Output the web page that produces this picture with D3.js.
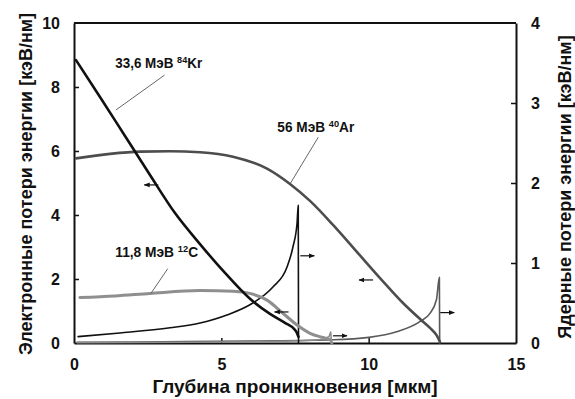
<!DOCTYPE html>
<html>
<head>
<meta charset="utf-8">
<script src="https://cdn.jsdelivr.net/npm/d3@7"></script>
<style>
  html, body { margin: 0; padding: 0; background: #fff; }
  svg { display: block; }
  text { font-family: "Liberation Sans", Arial, sans-serif; font-weight: bold; fill: #111; }
</style>
</head>
<body>
<svg id="chart" width="575" height="399"></svg>
<script>
// Depth (µm) and stopping power; electronic losses on the left axis, nuclear on the right
const krElectronic = [[0.068,8.84],[0.882,7.69],[1.731,6.47],[2.579,5.25],[3.428,4.06],[4.276,3.09],[5.124,2.19],[5.973,1.38],[6.652,0.91],[7.161,0.63],[7.466,0.44],[7.568,0.31],[7.619,0.19]];
const krNuclear = [[0.14,0.08],[1.56,0.125],[3.26,0.19],[4.28,0.25],[5.19,0.35],[6.07,0.50],[6.75,0.70],[7.23,0.95],[7.43,1.20],[7.57,1.50],[7.61,1.72],[7.62,0]];
const arElectronic = [[0.068,5.77],[1.222,5.91],[2.240,5.98],[3.258,5.99],[4.276,5.96],[5.396,5.82],[6.550,5.45],[7.330,4.97],[8.009,4.44],[8.790,3.69],[9.570,2.88],[10.385,2.03],[11.165,1.25],[11.742,0.75],[12.081,0.47],[12.319,0.22],[12.421,0.03]];
const arNuclear = [[0.1,0.01],[3,0.015],[6,0.025],[8.8,0.04],[10.0,0.07],[10.95,0.14],[11.75,0.27],[12.08,0.37],[12.3,0.54],[12.4,0.82],[12.41,0]];
const cElectronic = [[0.2,1.42],[1.39,1.47],[2.58,1.55],[4.28,1.64],[5.40,1.62],[5.97,1.55],[6.55,1.34],[7.09,0.93],[7.57,0.56],[8.01,0.30],[8.45,0.17],[8.69,0.11],[8.75,0.0]];
const cNuclear = [[0.1,0.005],[4,0.01],[7,0.02],[8.3,0.04],[8.65,0.08],[8.72,0.14],[8.73,0]];

const xTicks = [0, 5, 10, 15];
const leftTicks = [0, 2, 4, 6, 8, 10];
const rightTicks = [0, 1, 2, 3, 4];

const xTitle = "Глубина проникновения [мкм]";
const leftTitle = "Электронные потери энергии [кэВ/нм]";
const rightTitle = "Ядерные потери энергии [кэВ/нм]";

// Ion labels: energy text, mass number, element, label anchor, set width and leader line ends (left-axis units)
const ionLabels = [
  { text: "33,6 МэВ ", mass: "84", el: "Kr", at: [1.4, 8.6], width: 87, from: [3.07, 8.37], to: [1.42, 7.28] },
  { text: "56 МэВ ", mass: "40", el: "Ar", at: [6.9, 6.59], width: 77, from: [8.29, 6.43], to: [7.35, 5.0] },
  { text: "11,8 МэВ ", mass: "12", el: "C", at: [1.4, 2.7], width: 83, from: [3.18, 2.32], to: [2.61, 1.55] }
];

// Direction arrows telling which axis each curve belongs to: [depth, value, axis, direction]
const arrows = [
  [2.86, 4.94, "L", -1],
  [10.15, 1.97, "L", -1],
  [7.28, 0.97, "L", -1],
  [7.68, 1.09, "R", 1],
  [12.43, 0.38, "R", 1],
  [8.79, 0.09, "R", 1]
];

const svg = d3.select("#chart");
const x = d3.scaleLinear().domain([0, 15]).range([74, 516]);
const yL = d3.scaleLinear().domain([0, 10]).range([343, 23]);
const yR = d3.scaleLinear().domain([0, 4]).range([343, 23]);

// Axes
const axisStyle = g => {
  g.selectAll("path.domain").attr("stroke", "#111").attr("stroke-width", 2);
  g.selectAll(".tick line").attr("stroke", "#111").attr("stroke-width", 1.5);
  g.selectAll(".tick text").attr("font-size", 16).attr("font-family", "Liberation Sans, Arial, sans-serif").attr("font-weight", "bold").attr("fill", "#111");
};
const fmt = d3.format("d");

svg.append("g").attr("transform", "translate(0,343)")
  .call(d3.axisBottom(x).tickValues(xTicks).tickFormat(fmt).tickSize(-5).tickSizeOuter(0).tickPadding(16))
  .call(axisStyle)
  .call(g => g.selectAll(".tick line").filter(d => d === 0 || d === 15).remove());

svg.append("g").attr("transform", "translate(74,0)")
  .call(d3.axisLeft(yL).tickValues(leftTicks).tickFormat(fmt).tickSize(-5).tickSizeOuter(0).tickPadding(14))
  .call(axisStyle)
  .call(g => g.selectAll(".tick line").filter(d => d === 0 || d === 10).remove());

svg.append("g").attr("transform", "translate(516,0)")
  .call(d3.axisRight(yR).tickValues(rightTicks).tickFormat(fmt).tickSize(-5).tickSizeOuter(0).tickPadding(15))
  .call(axisStyle)
  .call(g => g.selectAll(".tick line").filter(d => d === 0 || d === 4).remove());

// Top border of the frame
svg.append("line").attr("x1", x(0)).attr("x2", x(15)).attr("y1", yL(10)).attr("y2", yL(10))
  .attr("stroke", "#111").attr("stroke-width", 2);

// Curves
const lineL = d3.line().x(d => x(d[0])).y(d => yL(d[1])).curve(d3.curveMonotoneX);
const lineR = d3.line().x(d => x(d[0])).y(d => yR(d[1])).curve(d3.curveMonotoneX);

const series = [
  { data: arNuclear, gen: lineR, color: "#5a5a5a", w: 1.6 },
  { data: cNuclear, gen: lineR, color: "#8c8c8c", w: 1.6 },
  { data: krNuclear, gen: lineR, color: "#111", w: 1.6 },
  { data: cElectronic, gen: lineL, color: "#8f8f8f", w: 3 },
  { data: arElectronic, gen: lineL, color: "#4d4d4d", w: 2.6 },
  { data: krElectronic, gen: lineL, color: "#111", w: 2.6 }
];
svg.append("g").selectAll("path").data(series).join("path")
  .attr("d", s => s.gen(s.data))
  .attr("fill", "none")
  .attr("stroke", s => s.color)
  .attr("stroke-width", s => s.w)
  .attr("stroke-linejoin", "round")
  .attr("stroke-linecap", "round");

// Arrows
svg.append("defs").append("marker")
  .attr("id", "head").attr("viewBox", "0 0 10 10").attr("refX", 9).attr("refY", 5)
  .attr("markerWidth", 5).attr("markerHeight", 5).attr("orient", "auto")
  .append("path").attr("d", "M0,1 L10,5 L0,9 Z").attr("fill", "#111");

svg.append("g").selectAll("line").data(arrows).join("line")
  .attr("x1", d => x(d[0]))
  .attr("x2", d => x(d[0]) + d[3] * 14)
  .attr("y1", d => (d[2] === "L" ? yL : yR)(d[1]))
  .attr("y2", d => (d[2] === "L" ? yL : yR)(d[1]))
  .attr("stroke", "#111").attr("stroke-width", 1.2)
  .attr("marker-end", "url(#head)");

// Ion labels with leader lines; each label is condensed horizontally to its set width
const lbl = svg.append("g");
lbl.selectAll("line").data(ionLabels).join("line")
  .attr("x1", d => x(d.from[0])).attr("y1", d => yL(d.from[1]))
  .attr("x2", d => x(d.to[0])).attr("y2", d => yL(d.to[1]))
  .attr("stroke", "#666").attr("stroke-width", 1);
const t = lbl.selectAll("text").data(ionLabels).join("text")
  .attr("x", 0).attr("y", 0)
  .attr("font-size", 14).attr("fill", "#222");
t.append("tspan").text(d => d.text);
t.append("tspan").attr("font-size", 9.5).attr("dy", -5).text(d => d.mass);
t.append("tspan").attr("dy", 5).text(d => d.el);
t.attr("transform", function (d) {
  const k = d.width / this.getComputedTextLength();
  return `translate(${x(d.at[0])},${yL(d.at[1])}) scale(${k},1)`;
});

// Axis titles
svg.append("text").attr("x", 295).attr("y", 393).attr("text-anchor", "middle")
  .attr("font-size", 19).text(xTitle);
svg.append("text").attr("transform", "translate(32,184) rotate(-90)").attr("text-anchor", "middle")
  .attr("font-size", 18).text(leftTitle);
svg.append("text").attr("transform", "translate(571,187) rotate(-90)").attr("text-anchor", "middle")
  .attr("font-size", 18).text(rightTitle);
</script>
</body>
</html>
